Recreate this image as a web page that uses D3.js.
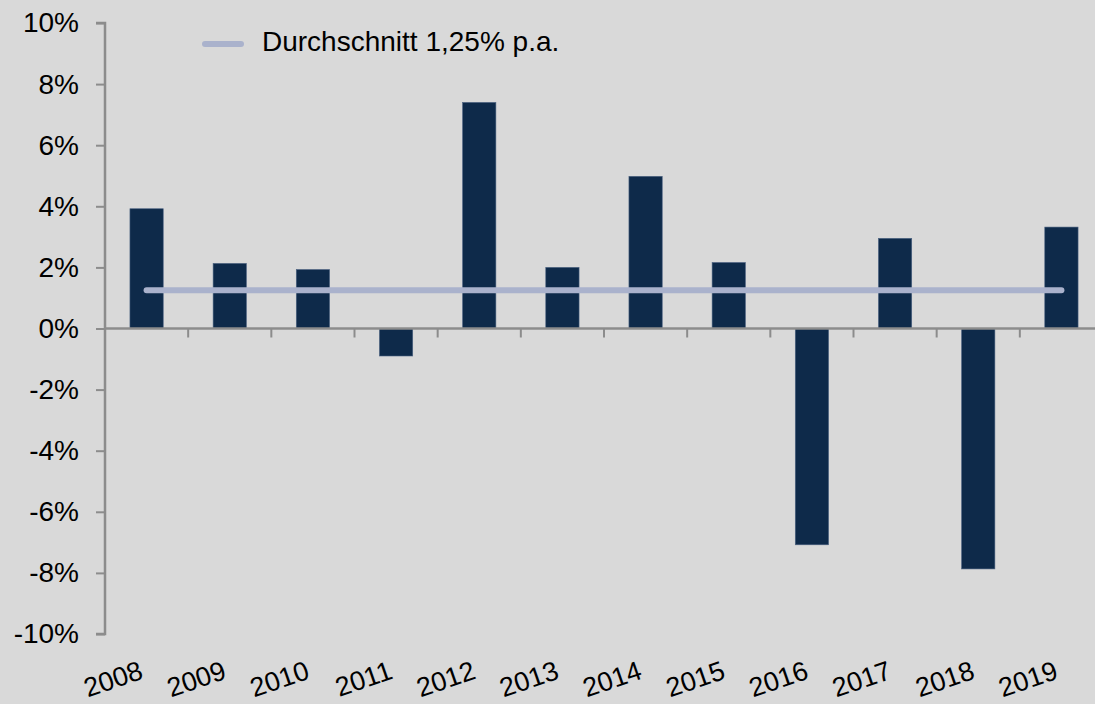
<!DOCTYPE html>
<meta charset="utf-8">
<script src="https://d3js.org/d3.v7.min.js"></script>
<style>
  body { margin: 0; background: #d9d9d9; }
  text { font-family: "Liberation Sans", Arial, sans-serif; fill: #000; }
</style>
<body>
<div id="chart"></div>
<script>
// data
var years = ["2008","2009","2010","2011","2012","2013","2014","2015","2016","2017","2018","2019"];
var returns = [3.92, 2.13, 1.93, -0.9, 7.4, 2.0, 4.98, 2.16, -7.08, 2.95, -7.87, 3.32];
var average = 1.25;
var yTicks = [-10, -8, -6, -4, -2, 0, 2, 4, 6, 8, 10];
var legendLabel = "Durchschnitt 1,25% p.a.";

var width = 1095, height = 704;
var margin = {top: 23, left: 105, bottom: 70};

var svg = d3.select("#chart").append("svg")
    .attr("width", width)
    .attr("height", height);

svg.append("rect").attr("width", width).attr("height", height).attr("fill", "#d9d9d9");

// x scale runs a bit past the right edge, like the original
var x = d3.scaleBand()
    .domain(years)
    .range([margin.left, 1103])
    .paddingInner(0.6)
    .paddingOuter(0.3);

var y = d3.scaleLinear()
    .domain([-10, 10])
    .range([634, margin.top]);

// bars
svg.selectAll(".bar")
  .data(returns)
  .enter().append("rect")
    .attr("class", "bar")
    .attr("x", function(d, i) { return x(years[i]); })
    .attr("width", x.bandwidth())
    .attr("y", function(d) { return y(Math.max(0, d)); })
    .attr("height", function(d) { return Math.abs(y(d) - y(0)); })
    .attr("fill", "#0e2a4a")
    .attr("stroke", "#4a6080")
    .attr("stroke-width", 0.6);

// y axis
var yAxis = svg.append("g")
    .attr("transform", "translate(" + margin.left + ",0)")
    .call(d3.axisLeft(y).tickValues(yTicks).tickSize(9).tickPadding(17)
      .tickFormat(function(d) { return d + "%"; }));
yAxis.select(".domain").attr("stroke", "#8c8c8c").attr("stroke-width", 2.5)
    .attr("d", "M-9," + y(10) + "H0V" + y(-10) + "H-9");
yAxis.selectAll(".tick line").attr("stroke", "#8c8c8c").attr("stroke-width", 2);
yAxis.selectAll(".tick text").style("font-size", "28px")
    .style("font-family", "Liberation Sans, Arial, sans-serif");

// x axis line at zero with ticks between categories
var step = x.step();
var x0 = x.range()[0];
svg.append("line")
    .attr("x1", margin.left).attr("x2", width)
    .attr("y1", y(0)).attr("y2", y(0))
    .attr("stroke", "#8c8c8c").attr("stroke-width", 2.5);
svg.selectAll(".xtick")
  .data(years.slice(1))
  .enter().append("line")
    .attr("x1", function(d, i) { return x0 + step * (i + 1); })
    .attr("x2", function(d, i) { return x0 + step * (i + 1); })
    .attr("y1", y(0)).attr("y2", y(0) + 9)
    .attr("stroke", "#8c8c8c").attr("stroke-width", 2);

// rotated year labels
svg.selectAll(".xlabel")
  .data(years)
  .enter().append("text")
    .attr("class", "xlabel")
    .attr("text-anchor", "end")
    .attr("transform", function(d) {
      return "translate(" + (x(d) + x.bandwidth() / 2 - 2) + ",678) rotate(-19)";
    })
    .style("font-size", "27px")
    .text(function(d) { return d; });

// average line
svg.append("line")
    .attr("x1", x(years[0]) + x.bandwidth() / 2)
    .attr("x2", x(years[years.length - 1]) + x.bandwidth() / 2)
    .attr("y1", y(average)).attr("y2", y(average))
    .attr("stroke", "#aab2cc").attr("stroke-width", 6)
    .attr("stroke-linecap", "round");

// legend
svg.append("line")
    .attr("x1", 205).attr("x2", 241)
    .attr("y1", 44).attr("y2", 44)
    .attr("stroke", "#aab2cc").attr("stroke-width", 6)
    .attr("stroke-linecap", "round");
svg.append("text")
    .attr("x", 262).attr("y", 51)
    .style("font-size", "28px")
    .text(legendLabel);
</script>
</body>
